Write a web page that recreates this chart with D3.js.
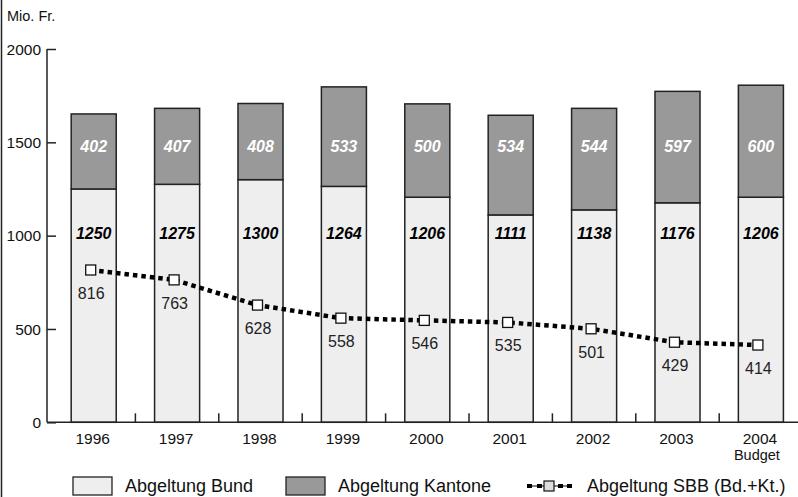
<!DOCTYPE html>
<html><head><meta charset="utf-8">
<script src="https://cdn.jsdelivr.net/npm/d3@7"></script>
<style>
body{margin:0;background:#fff;}
svg{display:block;font-family:"Liberation Sans",Arial,Helvetica,sans-serif;}
</style></head>
<body>
<svg id="c" width="798" height="497"></svg>
<script>
const years = ["1996","1997","1998","1999","2000","2001","2002","2003","2004"];
const bund = [1250,1275,1300,1264,1206,1111,1138,1176,1206];
const kantone = [402,407,408,533,500,534,544,597,600];
const sbb = [816,763,628,558,546,535,501,429,414];
const yTicks = [0,500,1000,1500,2000];
const legendLabels = ["Abgeltung Bund","Abgeltung Kantone","Abgeltung SBB (Bd.+Kt.)"];

const svg = d3.select("#c");
const W = 798, H = 497;
const x = d3.scaleBand().domain(years).range([52, 802.6]).paddingInner(0.46).paddingOuter(0.23);
const y = d3.scaleLinear().domain([0,2000]).range([422.3, 49]);
const cBund = "#eeeeee", cKant = "#999999", cStroke = "#222";

// left frame line
svg.append("line").attr("x1",1.5).attr("x2",1.5).attr("y1",0).attr("y2",H).attr("stroke","#222").attr("stroke-width",1.5);

svg.append("text").attr("x",7).attr("y",21).attr("font-size",14.5).attr("fill","#111").text("Mio. Fr.");

// y axis
const yAxis = svg.append("g").attr("transform","translate(47,0)")
  .call(d3.axisRight(y).tickValues(yTicks).tickSize(9).tickFormat(""));
yAxis.select(".domain").attr("stroke",cStroke).attr("stroke-width",1.5).attr("d",`M0,${y(2000)}V${y(0)}`);
yAxis.selectAll(".tick line").attr("stroke",cStroke).attr("stroke-width",1.5);
svg.selectAll(".ylab").data(yTicks).join("text").attr("class","ylab")
  .attr("x",41).attr("y",d=>y(d)).attr("dy","0.36em").attr("text-anchor","end")
  .attr("font-size",15.5).attr("fill","#111").text(d=>d);

// bars
const step = x.step();
const g = svg.append("g");
years.forEach((yr,i)=>{
  g.append("rect").attr("x",x(yr)).attr("width",x.bandwidth())
    .attr("y",y(bund[i])).attr("height",y(0)-y(bund[i]))
    .attr("fill",cBund).attr("stroke",cStroke).attr("stroke-width",1.5);
  g.append("rect").attr("x",x(yr)).attr("width",x.bandwidth())
    .attr("y",y(bund[i]+kantone[i])).attr("height",y(bund[i])-y(bund[i]+kantone[i]))
    .attr("fill",cKant).attr("stroke",cStroke).attr("stroke-width",1.5);
});
svg.selectAll(".bl").data(years).join("text").attr("class","bl")
  .attr("x",d=>x(d)+x.bandwidth()/2).attr("y",y(1000)-2)
  .attr("dy","0.36em").attr("text-anchor","middle").attr("font-size",16)
  .attr("font-weight","bold").attr("font-style","italic").attr("fill","#000")
  .text((d,i)=>bund[i]);
svg.selectAll(".kl").data(years).join("text").attr("class","kl")
  .attr("x",d=>x(d)+x.bandwidth()/2).attr("y",y(1480)+0.5)
  .attr("dy","0.36em").attr("text-anchor","middle").attr("font-size",16)
  .attr("font-weight","bold").attr("font-style","italic").attr("fill","#fff")
  .text((d,i)=>kantone[i]);

// x axis
svg.append("line").attr("x1",47).attr("x2",W).attr("y1",y(0)).attr("y2",y(0)).attr("stroke",cStroke).attr("stroke-width",1.5);
svg.selectAll(".xt").data(years.slice(1)).join("line").attr("class","xt")
  .attr("x1",d=>x(d)-step*x.paddingInner()/2).attr("x2",d=>x(d)-step*x.paddingInner()/2)
  .attr("y1",y(0)).attr("y2",y(0)-9).attr("stroke",cStroke).attr("stroke-width",1.5);
svg.selectAll(".xl").data(years).join("text").attr("class","xl")
  .attr("x",d=>x(d)+x.bandwidth()/2-1).attr("y",443.5).attr("text-anchor","middle")
  .attr("font-size",15.5).attr("fill","#111").text(d=>d);
svg.append("text").attr("x",x("2004")+x.bandwidth()/2-4).attr("y",460).attr("text-anchor","middle")
  .attr("font-size",14.5).attr("fill","#111").text("Budget");

// line
const off = -3;
const line = d3.line().x((d,i)=>x(years[i])+x.bandwidth()/2+off).y(d=>y(d));
svg.append("path").datum(sbb).attr("d",line).attr("fill","none").attr("stroke","#000")
  .attr("stroke-width",4.5).attr("stroke-dasharray","4.5,4");
svg.selectAll(".mk").data(sbb).join("rect").attr("class","mk")
  .attr("x",(d,i)=>x(years[i])+x.bandwidth()/2+off-5).attr("y",d=>y(d)-5)
  .attr("width",10).attr("height",10).attr("fill","#fff").attr("stroke","#111").attr("stroke-width",1.3);
svg.selectAll(".ml").data(sbb).join("text").attr("class","ml")
  .attr("x",(d,i)=>x(years[i])+x.bandwidth()/2+off+0.5).attr("y",d=>y(d)+29)
  .attr("text-anchor","middle").attr("font-size",16).attr("fill","#222").text(d=>d);

// legend
const ly = 486;
const lg = svg.append("g");
lg.append("rect").attr("x",73).attr("y",ly-9).attr("width",39).attr("height",18).attr("fill",cBund).attr("stroke",cStroke).attr("stroke-width",1.3);
lg.append("text").attr("x",125).attr("y",ly).attr("dy","0.36em").attr("font-size",18).attr("fill","#111").text(legendLabels[0]);
lg.append("rect").attr("x",286).attr("y",ly-9).attr("width",39).attr("height",18).attr("fill",cKant).attr("stroke",cStroke).attr("stroke-width",1.3);
lg.append("text").attr("x",338).attr("y",ly).attr("dy","0.36em").attr("font-size",18).attr("fill","#111").text(legendLabels[1]);
lg.append("line").attr("x1",527).attr("x2",572).attr("y1",ly).attr("y2",ly).attr("stroke","#000").attr("stroke-width",1.2);
[527,537,558,567].forEach(px=>lg.append("rect").attr("x",px).attr("y",ly-2).attr("width",5).attr("height",4).attr("fill","#000"));
lg.append("rect").attr("x",544).attr("y",ly-5).attr("width",10).attr("height",10).attr("fill","#ddd").attr("stroke","#111").attr("stroke-width",1.2);
lg.append("text").attr("x",587).attr("y",ly).attr("dy","0.36em").attr("font-size",18).attr("fill","#111").text(legendLabels[2]);
</script>
</body></html>
